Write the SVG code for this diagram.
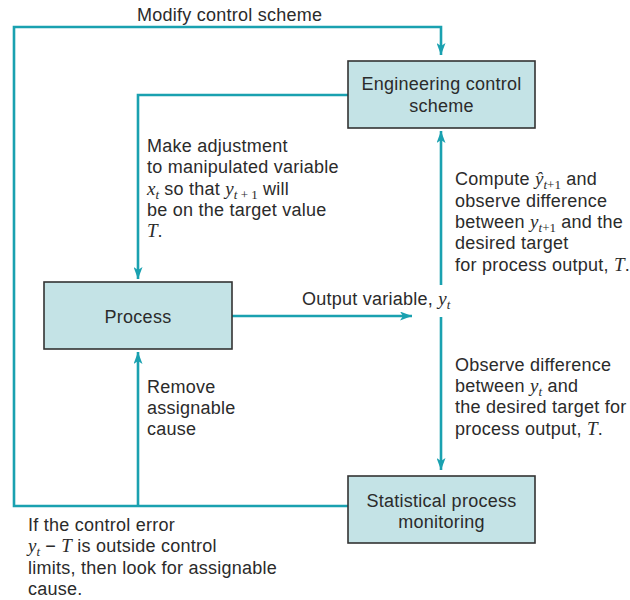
<svg xmlns="http://www.w3.org/2000/svg" width="630" height="600" viewBox="0 0 630 600">
<defs>
<style>
.box{fill:#c4e3e6;stroke:#333;stroke-width:1.6}
.ln{fill:none;stroke:#1aa1b0;stroke-width:2.6}
.ar{marker-end:url(#ah)}
text{font-family:"Liberation Sans",Arial,sans-serif;font-size:18px;fill:#2b2b2b;letter-spacing:0.25px}
.c{text-anchor:middle}
.m{font-family:"Liberation Serif","Times New Roman",serif;font-style:italic;letter-spacing:0;font-size:19px}
.s{font-size:13px}
.r{font-family:"Liberation Serif","Times New Roman",serif;font-style:normal;letter-spacing:0}
</style>
<marker id="ah" markerUnits="userSpaceOnUse" markerWidth="13" markerHeight="9" refX="12" refY="4.5" orient="auto">
<path d="M0,0 L12,4.5 L0,9 L3,4.5 z" fill="#1aa1b0"/>
</marker>
</defs>
<rect width="630" height="600" fill="#fff"/>
<g id="connectors">
<path class="ln ar" d="M348,506 H14 V27 H441 V55"/>
<path class="ln ar" d="M138,506 V352"/>
<path class="ln ar" d="M348,95 H138 V279"/>
<path class="ln ar" d="M232,316 H412"/>
<path class="ln ar" d="M441,285 V131"/>
<path class="ln ar" d="M441,317 V470"/>
</g>
<g id="engineering">
<rect class="box" x="348" y="61" width="187" height="67"/>
<text class="c" x="441.5" y="90">Engineering control</text>
<text class="c" x="441.5" y="112">scheme</text>
</g>
<g id="process">
<rect class="box" x="44" y="282" width="188" height="67"/>
<text class="c" x="138" y="323">Process</text>
</g>
<g id="statistical">
<rect class="box" x="348" y="476" width="187" height="67"/>
<text class="c" x="441.5" y="507">Statistical process</text>
<text class="c" x="441.5" y="528">monitoring</text>
</g>
<g id="labels">
<text x="137" y="21">Modify control scheme</text>
<text x="147" y="152">Make adjustment</text>
<text x="147" y="173">to manipulated variable</text>
<text x="147" y="195"><tspan class="m">x</tspan><tspan class="m s" dy="4">t</tspan><tspan dy="-4"> so that </tspan><tspan class="m">y</tspan><tspan class="m s" dy="4">t</tspan><tspan class="s r"> + 1</tspan><tspan dy="-4"> will</tspan></text>
<text x="147" y="216">be on the target value</text>
<text x="147" y="237"><tspan class="m">T</tspan>.</text>
<text x="455" y="185">Compute <tspan class="m">ŷ</tspan><tspan class="m s" dy="4">t</tspan><tspan class="s r">+1</tspan><tspan dy="-4"> and</tspan></text>
<text x="455" y="207">observe difference</text>
<text x="455" y="228">between <tspan class="m">y</tspan><tspan class="m s" dy="4">t</tspan><tspan class="s r">+1</tspan><tspan dy="-4"> and the</tspan></text>
<text x="455" y="249">desired target</text>
<text x="455" y="271">for process output, <tspan class="m">T</tspan>.</text>
<text x="302" y="305">Output variable, <tspan class="m">y</tspan><tspan class="m s" dy="4">t</tspan></text>
<text x="455" y="371">Observe difference</text>
<text x="455" y="392">between <tspan class="m">y</tspan><tspan class="m s" dy="4">t</tspan><tspan dy="-4"> and</tspan></text>
<text x="455" y="413">the desired target for</text>
<text x="455" y="435">process output, <tspan class="m">T</tspan>.</text>
<text x="147" y="393">Remove</text>
<text x="147" y="414">assignable</text>
<text x="147" y="435">cause</text>
<text x="28" y="531">If the control error</text>
<text x="28" y="552"><tspan class="m">y</tspan><tspan class="m s" dy="4">t</tspan><tspan dy="-4"> − </tspan><tspan class="m">T</tspan> is outside control</text>
<text x="28" y="574">limits, then look for assignable</text>
<text x="28" y="595">cause.</text>
</g>
</svg>
